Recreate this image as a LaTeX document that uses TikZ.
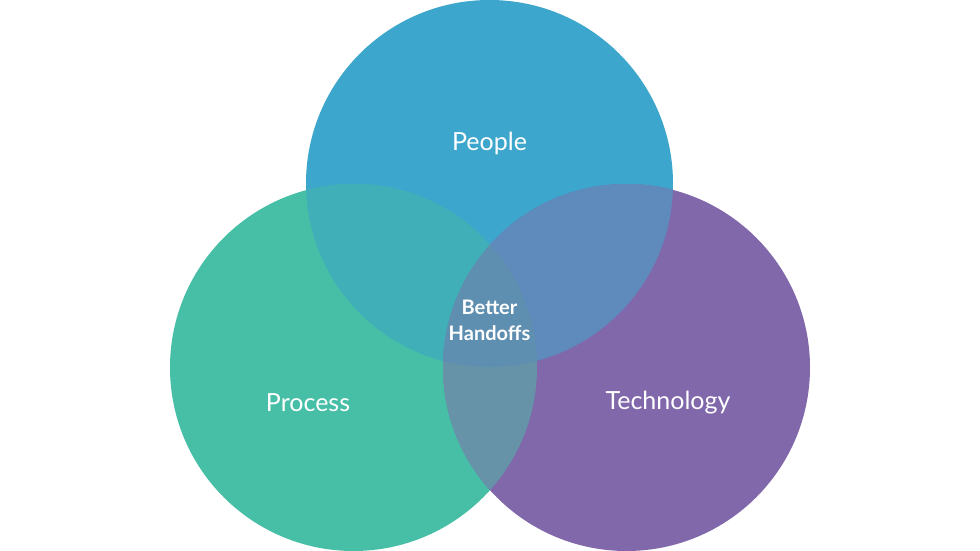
\documentclass[tikz,border=0pt]{standalone}
\usepackage{fontspec}
\setmainfont{Lato}
\begin{document}
\begin{tikzpicture}[x=1pt,y=-1pt,
  lbl/.style={text=white,font=\fontsize{25}{30}\selectfont,inner sep=0pt},
  midlbl/.style={text=white,font=\bfseries\fontsize{20}{26}\selectfont,align=center,inner sep=0pt}]
\definecolor{cBlue}{HTML}{3DA6CC}
\definecolor{cGreen}{HTML}{47BFA7}
\definecolor{cPurple}{HTML}{8068AB}
\definecolor{cBG}{HTML}{40AFB8}
\definecolor{cBP}{HTML}{5E8ABC}
\definecolor{cGP}{HTML}{6693A8}
\definecolor{cAll}{HTML}{5E8EB0}
\useasboundingbox (0,0) rectangle (980,551);
\fill[white] (0,0) rectangle (980,551);
\def\rr{183.5}
\coordinate (pe) at (489.5,183.5);
\coordinate (pr) at (353.5,367.5);
\coordinate (te) at (626.5,367.5);
\fill[cBlue] (pe) circle (\rr);
\fill[cGreen] (pr) circle (\rr);
\fill[cPurple] (te) circle (\rr);
\begin{scope}
  \clip (pe) circle (\rr);
  \fill[cBG] (pr) circle (\rr);
  \fill[cBP] (te) circle (\rr);
\end{scope}
\begin{scope}
  \clip (pr) circle (\rr);
  \fill[cGP] (te) circle (\rr);
  \clip (pe) circle (\rr);
  \fill[cAll] (te) circle (\rr);
\end{scope}
\node[lbl] (tpe) at (489.5,143) {People};
\node[lbl] (tpr) at (308,402.5) {Process};
\node[lbl] (tte) at (668,402.5) {Technology};
\node[midlbl] (tmid) at (489.5,320) {Better\\Handoffs};
\end{tikzpicture}
\end{document}
